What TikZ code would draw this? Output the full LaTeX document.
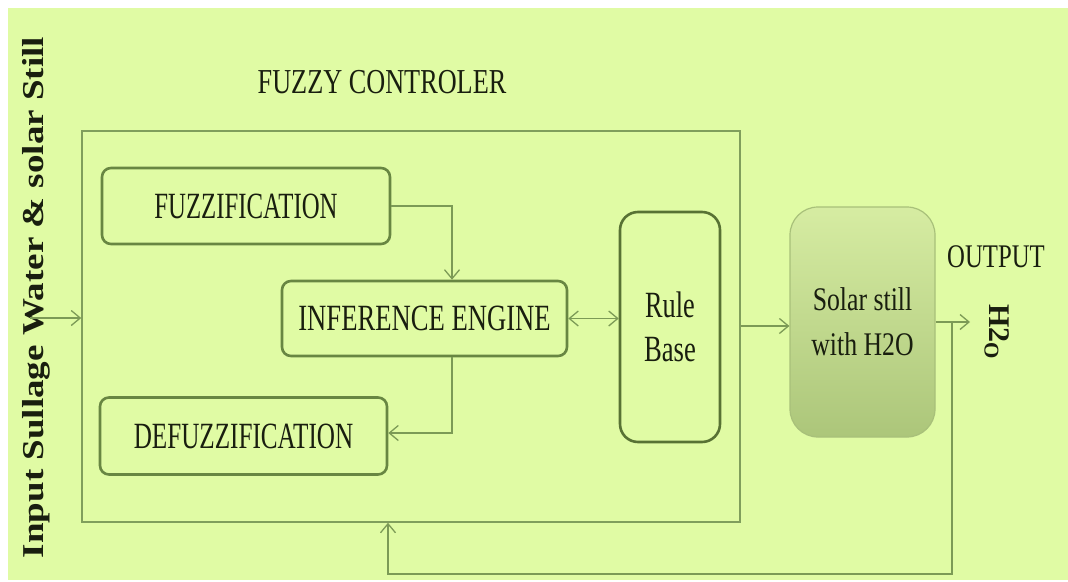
\documentclass[tikz,border=0pt]{standalone}
\usepackage{fontspec}
\setmainfont{Liberation Serif}
\usepackage{graphicx}
\usetikzlibrary{arrows.meta}

\definecolor{bg}{RGB}{224,251,164}
\definecolor{wire}{RGB}{124,154,86}
\definecolor{frame}{RGB}{128,158,92}
\definecolor{boxline}{RGB}{104,134,66}
\definecolor{ruleline}{RGB}{88,114,52}
\definecolor{ink}{RGB}{25,30,15}
\definecolor{stilltop}{RGB}{214,236,162}
\definecolor{stillbot}{RGB}{172,198,122}
\definecolor{stillline}{RGB}{168,192,122}

% horizontally condensed text
\newcommand\narrow[2]{\scalebox{#1}[1]{#2}}

\begin{document}
\begin{tikzpicture}[x=1pt,y=-1pt,
  wire/.style={draw=wire,line width=1.3pt,
    -{Straight Barb[length=9pt,width=15pt]}},
  wireboth/.style={draw=wire,line width=1.3pt,
    {Straight Barb[length=9pt,width=15pt]}-{Straight Barb[length=9pt,width=15pt]}},
  stage/.style={draw=boxline,line width=2.6pt,rounded corners=9pt,
    text=ink,inner sep=0pt,font=\fontsize{37}{44}\selectfont},
  label/.style={text=ink,inner sep=0pt}]

\useasboundingbox (0,0) rectangle (1068,581);
\fill[white] (0,0) rectangle (1068,581);
\fill[bg] (8,8) rectangle (1068,580);

% controller frame and title
\node[draw=frame,line width=1.5pt,minimum width=658pt,minimum height=391pt,inner sep=0pt]
  (ctrl) at (411,326.5) {};
\node[label,anchor=base,font=\fontsize{35}{42}\selectfont] (title) at (382,93)
  {\narrow{0.75}{FUZZY CONTROLER}};

% controller stages
\node[stage,minimum width=288pt,minimum height=76pt] (fuzz) at (246,206)
  {\narrow{0.67}{FUZZIFICATION}};
\node[stage,minimum width=285pt,minimum height=75pt] (inf) at (424.5,318.5)
  {\narrow{0.72}{INFERENCE ENGINE}};
\node[stage,minimum width=287pt,minimum height=77pt] (defuzz) at (243.5,436)
  {\narrow{0.68}{DEFUZZIFICATION}};
\node[stage,draw=ruleline,rounded corners=18pt,minimum width=100pt,minimum height=230pt,
  align=center] (rule) at (670,327)
  {\narrow{0.71}{Rule}\\\narrow{0.72}{Base}};

% plant
\node[draw=stillline,line width=1.2pt,rounded corners=28pt,top color=stilltop,bottom color=stillbot,
  minimum width=145pt,minimum height=230pt,align=center,text=ink,inner sep=0pt,
  font=\fontsize{33}{45}\selectfont] (solar) at (862.5,322)
  {\narrow{0.78}{Solar still}\\\narrow{0.78}{with H2O}};

\node[label,anchor=base,font=\fontsize{33}{40}\selectfont] (outlbl) at (996,267)
  {\narrow{0.75}{OUTPUT}};
\node[label,rotate=-90,font=\fontsize{30}{36}\selectfont\bfseries] (water) at (997,332)
  {H2\textsubscript{O}};

% input label
\node[label,rotate=90,font=\fontsize{37}{44}\selectfont\bfseries] (inlbl) at (36,297.5)
  {\scalebox{1}[0.82]{Input Sullage Water \& solar Still}};

% connectors
\coordinate (in) at (30,318);
\draw[wire] (in) -- (in -| ctrl.west);

\coordinate (drop) at ([xshift=27.5pt]inf.north);
\draw[wire] (fuzz.east) -| (drop);

\coordinate (rise) at ([xshift=27.5pt]inf.south);
\coordinate (dz) at ([yshift=3pt]defuzz.east);
\draw[wire] (rise) |- (dz);

\draw[wireboth] (inf.east) -- (inf.east -| rule.west);

\coordinate (sin) at ([yshift=-4pt]solar.west);
\draw[wire] (sin -| ctrl.east) -- (sin);

\coordinate (out) at (970,322);
\coordinate (split) at (952,322);
\coordinate (ret) at (388,574);
\draw[wire] (solar.east) -- (out);
\draw[wire] (split) |- (ret) -- (ret |- ctrl.south);

\end{tikzpicture}
\end{document}
